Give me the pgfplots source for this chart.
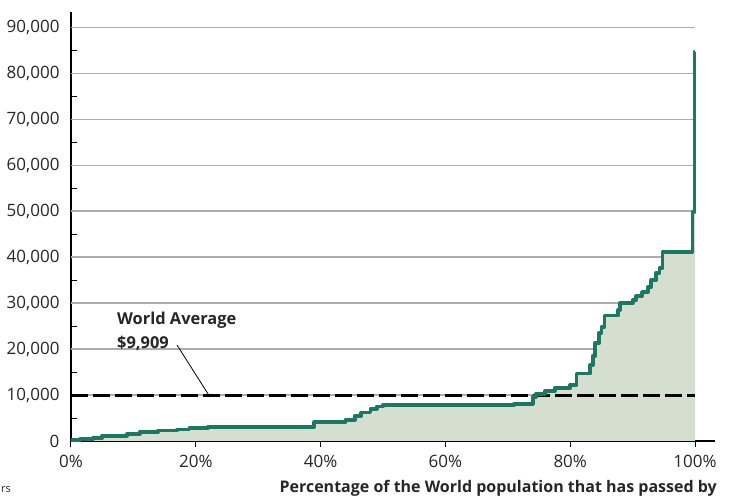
\documentclass[border=0pt]{standalone}
\usepackage{pgfplots}
\pgfplotsset{compat=1.18}
\usepackage{fontspec}
\setmainfont{Open Sans}
\definecolor{curve}{RGB}{28,120,98}
\definecolor{area}{RGB}{213,223,207}
\definecolor{gridgray}{RGB}{172,172,172}

\pgfplotstableread{
x y
0 200
1.5 400
3.5 700
5 1150
9 1500
11 2000
14 2300
17 2500
19 2900
22 3100
39 4050
44 4600
45.5 5500
46.5 6200
48 7000
49 7500
50 7800
71 8100
74 9600
74.5 10300
76 10900
77.5 11500
80 12200
81 14700
83.2 16500
83.6 18500
84 21300
84.6 23500
85 24800
85.5 27300
87.7 28500
88 30000
90 30700
90.6 31500
91.5 32400
92.5 33500
93 35000
93.8 36600
94.3 37600
94.8 41100
99.6 49800
99.9 84600
100 84600
}\income

\begin{document}
\begin{tikzpicture}
\useasboundingbox (-71pt,-59pt) rectangle (658pt,441pt);
\begin{axis}[
  at={(0pt,0pt)}, anchor=south west,
  scale only axis, width=644pt, height=429pt,
  xmin=0, xmax=103.2, ymin=0, ymax=93300,
  clip=false,
  scaled y ticks=false, scaled x ticks=false,
  axis x line=bottom, axis y line=left,
  axis line style={-, line width=1.3pt, black},
  xtick={0,20,40,60,80,100},
  xticklabels={0\%,20\%,40\%,60\%,80\%,100\%},
  ytick={0,10000,20000,30000,40000,50000,60000,70000,80000,90000},
  yticklabels={0,{10,000},{20,000},{30,000},{40,000},{50,000},{60,000},{70,000},{80,000},{90,000}},
  tick align=outside,
  major tick length=6pt,
  x tick style={black, line width=1pt},
  y tick style={draw=none},
  tick label style={font=\fontsize{17}{20}\selectfont, text=black!85},
  yticklabel style={xshift=-2pt},
  xticklabel style={yshift=-5pt},
]
\pgfplotsinvokeforeach{10000,20000,30000,40000,50000,60000,70000,80000,90000}{
  \draw[gridgray, line width=1.2pt] (axis cs:0,#1) -- (axis cs:100,#1);
}
\pgfplotsinvokeforeach{5000,15000,25000,35000,45000,55000,65000,75000,85000}{
  \draw[black, line width=1pt] (axis cs:0,#1) -- ++(6pt,0pt);
}
\pgfplotsinvokeforeach{10,30,50,70,90}{
  \draw[black, line width=1pt] (axis cs:#1,0) -- ++(0pt,6pt);
}
\addplot[const plot, fill=area, draw=none] table {\income} \closedcycle;
\addplot[black, line width=3.5pt, dash pattern=on 17pt off 5pt] coordinates {(0,9909) (100,9909)};
\addplot[const plot, curve, line width=3.8pt, line join=round] table {\income};
\end{axis}
\draw[black, line width=0.8pt] (106pt,96pt) -- (139pt,44pt);
\node[anchor=base west, font=\bfseries\fontsize{16.4}{19}\selectfont, text=black!85, inner sep=0pt]
  at (46pt,116pt) {World Average};
\node[anchor=base west, font=\bfseries\fontsize{16.4}{19}\selectfont, text=black!85, inner sep=0pt]
  at (46pt,92pt) {\$9,909};
\node[anchor=base east, font=\bfseries\fontsize{16}{19}\selectfont, text=black!85, inner sep=0pt]
  at (646pt,-52pt) {Percentage of the World population that has passed by};
\node[anchor=base west, font=\fontsize{11}{13}\selectfont, text=black!85, inner sep=0pt]
  at (-70pt,-52pt) {rs};
\end{tikzpicture}
\end{document}
